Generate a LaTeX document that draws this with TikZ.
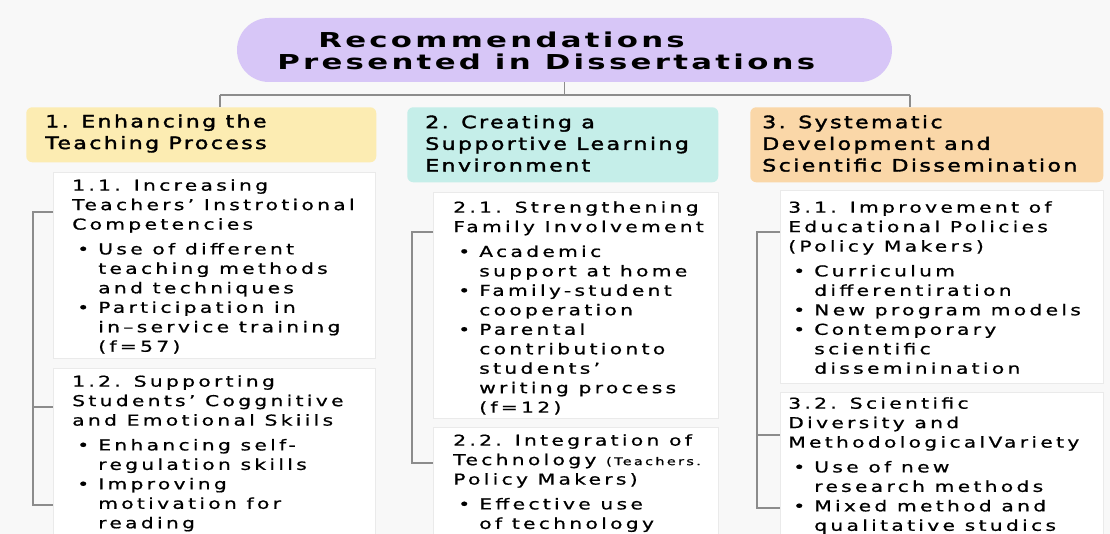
\documentclass[tikz,border=0pt]{standalone}
\usepackage{fontspec}
\setmainfont{DejaVu Sans}
\newfontfamily\ttlfont[FakeStretch=1.5,LetterSpace=16]{DejaVu Sans Bold}
\newfontfamily\hdfont[FakeStretch=1.3,FakeBold=2,LetterSpace=14]{DejaVu Sans}
\newfontfamily\txtfont[FakeStretch=1.35,FakeBold=0.8,LetterSpace=22]{DejaVu Sans}
\definecolor{bgcol}{RGB}{248,248,248}
\definecolor{titlebg}{RGB}{215,198,247}
\definecolor{hdyellow}{RGB}{252,236,178}
\definecolor{hdteal}{RGB}{197,238,233}
\definecolor{hdorange}{RGB}{250,215,168}
\definecolor{linegray}{RGB}{140,140,140}
\definecolor{cardline}{RGB}{234,234,234}
\newcommand\bul{\makebox[19.5pt][l]{\hspace{3.75pt}\textbullet}}
\newcommand\ind{\hspace*{19.5pt}}
\newcommand\gap{\\[4pt]}
\begin{document}
\begin{tikzpicture}[x=0.75pt, y=-0.75pt,
    line/.style={draw=linegray, line width=1.1pt},
    brk/.style={draw=linegray, line width=0.8pt},
    pill/.style={fill=titlebg, rounded corners=24pt, minimum width=491.25pt, minimum height=48pt, inner sep=0pt},
    hdbox/.style={anchor=north west, rounded corners=4.5pt, inner sep=0pt, minimum height=#1},
    card/.style={anchor=north west, fill=white, draw=cardline, line width=0.6pt, inner sep=0pt},
    ttltxt/.style={anchor=west, align=left, inner sep=0pt, font=\ttlfont\fontsize{15.4pt}{16.5pt}\selectfont},
    hdtxt/.style={anchor=west, align=left, inner sep=0pt, font=\hdfont\fontsize{12.75pt}{16.25pt}\selectfont},
    txt/.style={anchor=north west, align=left, inner sep=0pt, font=\txtfont\fontsize{11.25pt}{14.6pt}\selectfont}]
\useasboundingbox (0,0) rectangle (1110,534);
\clip (0,0) rectangle (1110,534);
\fill[bgcol] (0,0) rectangle (1110,534);

\node[pill] (pill) at (564.5,50) {};
\node[ttltxt] (ttl) at (277,51) {\hspace*{30.75pt}Recommendations\\Presented in Dissertations};

\node[hdbox=41.25pt, fill=hdyellow, minimum width=262.5pt] (h1) at (26,107) {};
\node[hdbox=56.25pt, fill=hdteal, minimum width=233.25pt] (h2) at (407,107) {};
\node[hdbox=56.25pt, fill=hdorange, minimum width=264.75pt] (h3) at (750,107) {};
\node[hdtxt] (ht1) at (45,133.5) {1. Enhancing the\\Teaching Process};
\node[hdtxt] (ht2) at (425,143.5) {2. Creating a\\Supportive Learning\\Environment};
\node[hdtxt] (ht3) at (762,143.5) {3. Systematic\\Development and\\Scientific Dissemination};

\coordinate (jl) at (220,95);
\coordinate (jr) at (910,95);
\draw[line] (jl) -- (jr);
\draw[line] (pill.south) -- (pill.south |- jl);
\draw[line] (jl) -- (jl |- h1.north);
\draw[line] (jr) -- (jr |- h3.north);

\node[card, minimum width=241.5pt, minimum height=139.5pt] (c11) at (53,172) {};
\node[card, minimum width=241.5pt, minimum height=135pt] (c12) at (53,368) {};
\node[card, minimum width=213.75pt, minimum height=169.5pt] (c21) at (433,192) {};
\node[card, minimum width=213.75pt, minimum height=90pt] (c22) at (433,427) {};
\node[card, minimum width=242.25pt, minimum height=144.75pt] (c31) at (780,190) {};
\node[card, minimum width=242.25pt, minimum height=112.5pt] (c32) at (780,392) {};

\node[txt] (t11) at (72,179) {1.1. Increasing\\Teachers’ Instrotional\\Competencies\gap
  \bul Use of different\\\ind teaching methods\\\ind and techniques\\
  \bul Participation in\\\ind in–service training\\\ind (f=57)};
\node[txt] (t12) at (72,375) {1.2. Supporting\\Students’ Coggnitive\\and Emotional Skiils\gap
  \bul Enhancing self-\\\ind regulation skills\\
  \bul Improving\\\ind motivation for\\\ind reading};
\node[txt] (t21) at (453,201) {2.1. Strengthening\\Family Involvement\gap
  \bul Academic\\\ind support at home\\
  \bul Family-student\\\ind cooperation\\
  \bul Parental\\\ind contributionto\\\ind students’\\\ind writing process\\\ind (f=12)};
\node[txt] (t22) at (453,434) {2.2. Integration of\\Technology {\fontsize{8pt}{10pt}\selectfont (Teachers.}\\Policy Makers)\gap
  \bul Effective use\\\ind of technology};
\node[txt] (t31) at (788,201) {3.1. Improvement of\\Educational Policies\\(Policy Makers)\gap
  \bul Curriculum\\\ind differentiration\\
  \bul New program models\\
  \bul Contemporary\\\ind scientific\\\ind disseminination};
\node[txt] (t32) at (788,397) {3.2. Scientific\\Diversity and\\MethodologicalVariety\gap
  \bul Use of new\\\ind research methods\\
  \bul Mixed method and\\\ind qualitative studics};

\coordinate (a1) at (33,212);
\coordinate (a2) at (33,407);
\coordinate (a3) at (33,505);
\draw[brk] (a1 -| c11.west) -- (a1) -- (a3) -- (a3 -| c12.west);
\draw[brk] (a2) -- (a2 -| c12.west);
\coordinate (b1) at (412,232);
\coordinate (b2) at (412,463);
\draw[brk] (b1 -| c21.west) -- (b1) -- (b2) -- (b2 -| c22.west);
\coordinate (d1) at (757,232);
\coordinate (d2) at (757,435);
\coordinate (d3) at (757,508);
\draw[brk] (d1 -| c31.west) -- (d1) -- (d3) -- (d3 -| c32.west);
\draw[brk] (d2) -- (d2 -| c32.west);
\end{tikzpicture}
\end{document}
